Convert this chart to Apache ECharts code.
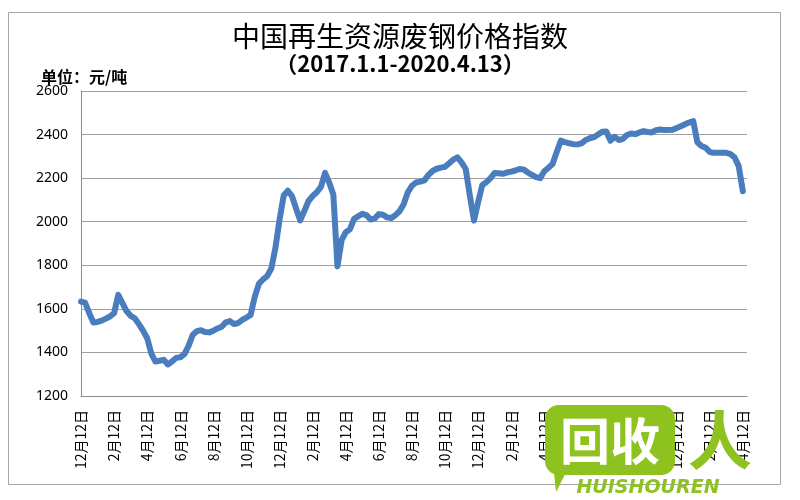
<!DOCTYPE html>
<html>
<head>
<meta charset="utf-8">
<script src="https://cdn.jsdelivr.net/npm/echarts@6/dist/echarts.min.js"></script>
<style>html,body{margin:0;padding:0;background:#fff}#c{width:800px;height:500px}</style>
</head>
<body>
<div id="c"></div>
<script>
// Months shown on the axis, every 2 months from Dec 2016 to Apr 2020
const tickLabels = ['12月12日','2月12日','4月12日','6月12日','8月12日','10月12日','12月12日','2月12日','4月12日','6月12日','8月12日','10月12日','12月12日','2月12日','4月12日','6月12日','8月12日','10月12日','12月12日','2月12日','4月12日'];
const yTicks = [1200, 1400, 1600, 1800, 2000, 2200, 2400, 2600];
// weekly index values (元/吨)
const values = [
  1633, 1628, 1580, 1537, 1540, 1546, 1555, 1565,
  1580, 1664, 1627, 1590, 1568, 1557, 1530, 1500,
  1465, 1395, 1358, 1362, 1366, 1345, 1358, 1375,
  1378, 1392, 1430, 1480, 1498, 1502, 1494, 1492,
  1500, 1510, 1518, 1538, 1544, 1530, 1535, 1550,
  1560, 1572, 1655, 1715, 1735, 1750, 1785, 1880,
  2010, 2120, 2142, 2118, 2060, 2006, 2050, 2095,
  2118, 2135, 2160, 2224, 2180, 2125, 1795, 1915,
  1952, 1965, 2012, 2025, 2036, 2030, 2010, 2015,
  2035, 2032, 2020, 2017, 2030, 2048, 2080, 2135,
  2165, 2180, 2184, 2190, 2215, 2233, 2243, 2248,
  2252, 2268, 2285, 2295, 2272, 2242, 2120, 2005,
  2090, 2168, 2182, 2200, 2224, 2222, 2220, 2226,
  2230, 2235, 2242, 2240, 2226, 2215, 2205, 2200,
  2232, 2248, 2265, 2320, 2372, 2365, 2360, 2356,
  2355, 2360, 2375, 2383, 2388, 2400, 2413, 2414,
  2372, 2390, 2375, 2380, 2398, 2405, 2402, 2410,
  2416, 2412, 2410, 2420, 2423, 2421, 2421, 2422,
  2430, 2438, 2447, 2455, 2462, 2365, 2348, 2340,
  2320, 2316, 2316, 2316, 2316, 2310, 2295, 2255,
  2140, null
];
// categories: 4 weekly steps per month, starting 12月12日 2016
const categories = [];
for (let k = 0; k < values.length; k++) {
  const m = ((11 + Math.floor(k / 4)) % 12) + 1;
  const n = (m % 12) + 1;
  const w = k % 4;
  categories.push(w === 0 ? m + '月12日' : w === 1 ? m + '月19日' : w === 2 ? m + '月26日' : n + '月4日');
}

const chart = echarts.init(document.getElementById('c'));
const green = '#8dc21f';
chart.setOption({
  animation: false,
  backgroundColor: '#fff',
  grid: { left: 81, right: 53, top: 91, bottom: 104 },
  title: [
    { text: '中国再生资源废钢价格指数', left: 'center', top: 17,
      textStyle: { fontFamily: 'Noto Sans CJK SC', fontSize: 28, fontWeight: 'normal', color: '#000' } },
    { text: '（2017.1.1-2020.4.13）', left: 'center', top: 48,
      textStyle: { fontFamily: 'Noto Sans CJK SC', fontSize: 22, fontWeight: 'bold', color: '#000' } },
    { text: '单位：元/吨', left: 36, top: 64,
      textStyle: { fontFamily: 'Noto Sans CJK SC', fontSize: 16, fontWeight: 'bold', color: '#000' } }
  ],
  xAxis: {
    type: 'category', data: categories, boundaryGap: false,
    axisLine: { lineStyle: { color: '#8c8c8c', width: 1 } },
    axisTick: { show: false },
    axisLabel: { interval: 7, rotate: 90, margin: 14, fontSize: 14, color: '#000', fontFamily: 'Noto Sans CJK SC',
      formatter: (v, i) => tickLabels[i / 8] || v }
  },
  yAxis: {
    type: 'value', min: yTicks[0], max: yTicks[yTicks.length - 1], interval: 200,
    axisLine: { show: true, lineStyle: { color: '#8c8c8c', width: 1 } },
    axisTick: { show: false },
    axisLabel: { fontSize: 14, color: '#000', margin: 13, fontFamily: 'Noto Sans', formatter: v => String(v) },
    splitLine: { lineStyle: { color: '#a0a0a0', width: 1 } }
  },
  series: [{
    type: 'line', data: values, showSymbol: false, symbol: 'none',
    lineStyle: { color: '#4a7dbd', width: 6, join: 'round', cap: 'round' }
  }],
  graphic: [
    { type: 'rect', z: 0, shape: { x: 8.5, y: 12.5, width: 772, height: 472 }, style: { fill: 'none', stroke: '#a6a6a6', lineWidth: 1 } },
    { type: 'polygon', z: 100, shape: { points: [[552, 455], [575, 455], [556, 492]] }, style: { fill: green } },
    { type: 'rect', z: 100, shape: { x: 545, y: 405, width: 130, height: 70, r: 14 }, style: { fill: green } },
    { type: 'text', z: 101, style: { text: '回收', x: 610, y: 441, fill: '#fff', fontSize: 50, fontWeight: 'bold', fontFamily: 'Noto Sans CJK SC', align: 'center', verticalAlign: 'middle' } },
    { type: 'text', z: 101, style: { text: '人', x: 720, y: 440, fill: green, fontSize: 64, fontWeight: 'bold', fontFamily: 'Noto Sans CJK SC', align: 'center', verticalAlign: 'middle' } },
    { type: 'text', z: 101, style: { text: 'HUISHOUREN', x: 648, y: 488, fill: green, fontSize: 19, fontWeight: 'bold', fontStyle: 'italic', fontFamily: 'DejaVu Sans', align: 'center', verticalAlign: 'middle' } }
  ]
});
</script>
</body>
</html>
